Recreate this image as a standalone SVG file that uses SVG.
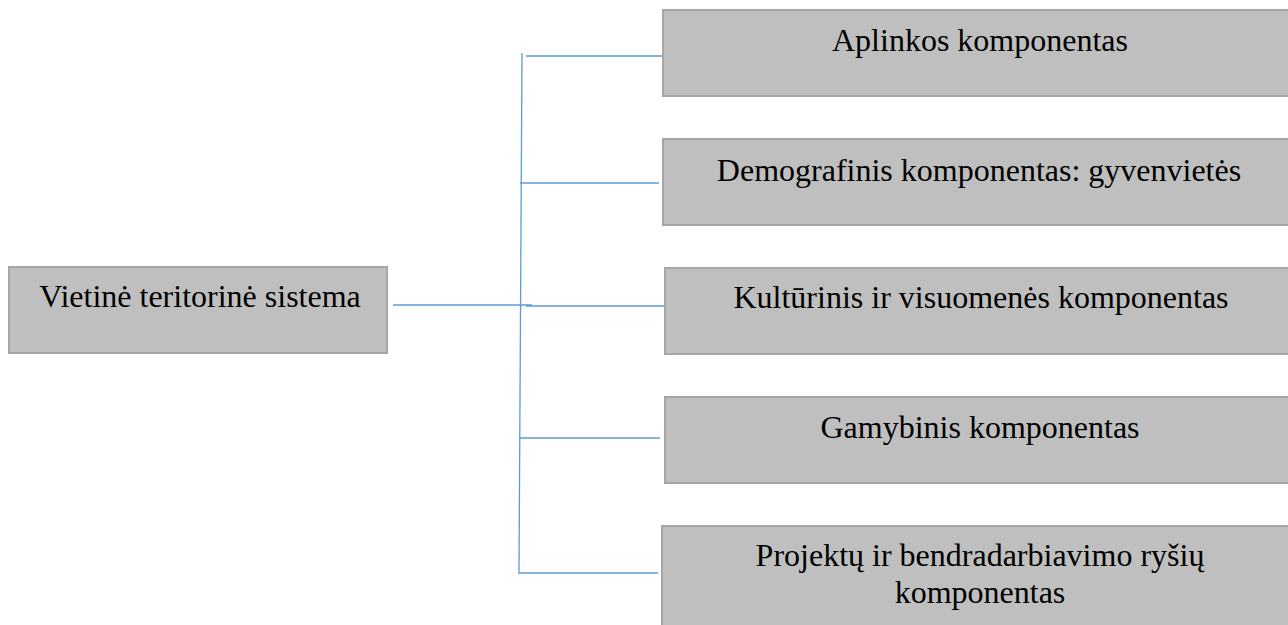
<svg xmlns="http://www.w3.org/2000/svg" width="1288" height="625" viewBox="0 0 1288 625">
<style>
.box{fill:#bfbfbf;stroke:#a6a6a6;stroke-width:2}
.lbl{font-family:"Liberation Serif","Times New Roman",serif;font-size:32px;fill:#000;text-anchor:middle}
.con{stroke:#5b9bd5;stroke-width:1.3;fill:none}
</style>
<rect width="1288" height="625" fill="#fff"/>
<g id="connectors">
<line class="con" x1="522" y1="53" x2="519" y2="572"/>
<line class="con" x1="526" y1="56" x2="663" y2="56"/>
<line class="con" x1="520" y1="183" x2="659" y2="183"/>
<line class="con" x1="393" y1="305" x2="532" y2="305"/>
<line class="con" x1="526" y1="306" x2="665" y2="306"/>
<line class="con" x1="520" y1="438" x2="660" y2="438"/>
<line class="con" x1="518" y1="573" x2="658" y2="573"/>
</g>
<g id="node-root">
<rect class="box" x="9" y="267" width="378" height="86"/>
<text class="lbl" x="200" y="307">Vietinė teritorinė sistema</text>
</g>
<g id="node-aplinkos">
<rect class="box" x="663" y="10" width="640" height="86"/>
<text class="lbl" x="980" y="51">Aplinkos komponentas</text>
</g>
<g id="node-demografinis">
<rect class="box" x="663" y="139" width="640" height="86"/>
<text class="lbl" x="979" y="181">Demografinis komponentas: gyvenvietės</text>
</g>
<g id="node-kulturinis">
<rect class="box" x="665" y="268" width="640" height="86"/>
<text class="lbl" x="981" y="308">Kultūrinis ir visuomenės komponentas</text>
</g>
<g id="node-gamybinis">
<rect class="box" x="665" y="397" width="640" height="86"/>
<text class="lbl" x="980" y="438">Gamybinis komponentas</text>
</g>
<g id="node-projektu">
<rect class="box" x="662" y="526" width="640" height="110"/>
<text class="lbl" x="980" y="566">Projektų ir bendradarbiavimo ryšių</text>
<text class="lbl" x="980" y="603">komponentas</text>
</g>
</svg>
